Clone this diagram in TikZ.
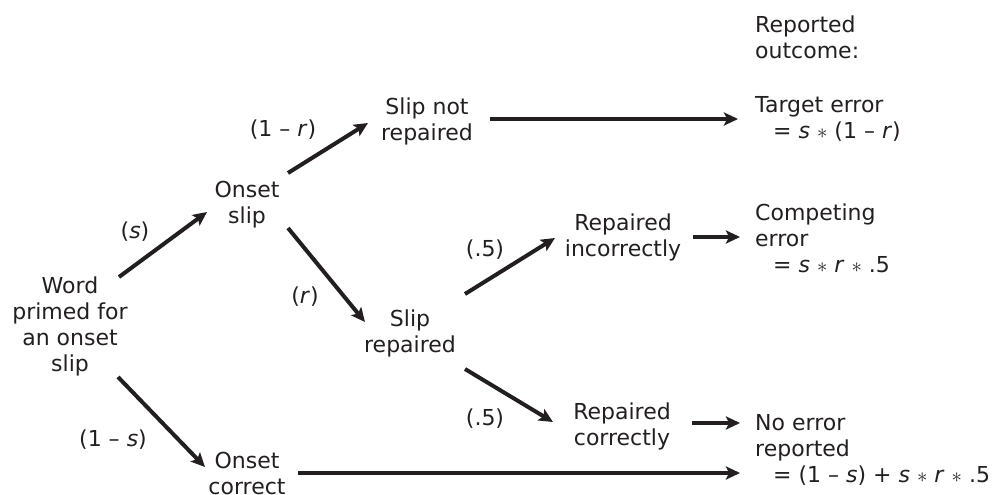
\documentclass[tikz,border=0pt]{standalone}
\usepackage{fontspec}
\setmainfont{DejaVu Sans}
\usetikzlibrary{arrows.meta,calc}
\definecolor{ink}{RGB}{35,31,32}
\newcommand{\tms}{$\ast$}
\begin{document}
\begin{tikzpicture}[x=1pt,y=-1pt,
  every node/.style={inner sep=0pt,text=ink,font=\fontsize{22}{26}\selectfont},
  state/.style={anchor=north,align=center},
  outcome/.style={anchor=north west,align=left},
  prob/.style={anchor=center},
  arr/.style={draw=ink,line width=4pt,-{Stealth[length=14pt,width=13pt,inset=3pt]}}]
\useasboundingbox (0,0) rectangle (1001,495);

% states of the tree
\node[state] (word)  at (70,276.5)  {Word\\primed for\\an onset\\slip};
\node[state] (oslip) at (247,180.5) {Onset\\slip};
\node[state] (ocor)  at (247,451.5) {Onset\\correct};
\node[state] (snr)   at (427,97.5)  {Slip not\\repaired};
\node[state] (srep)  at (410,309.5) {Slip\\repaired};
\node[state] (rinc)  at (623,213.5) {Repaired\\incorrectly};
\node[state] (rcor)  at (622,402.5) {Repaired\\correctly};

% reported outcomes
\node[outcome] (head)   at (755,15.5)  {Reported\\outcome:};
\node[outcome] (target) at (755,96.5)  {Target error\\\hspace*{18pt}= \textit{s} \tms{} (1 – \textit{r})};
\node[outcome] (comp)   at (755,203.5) {Competing\\error\\\hspace*{18pt}= \textit{s} \tms{} \textit{r} \tms{} .5};
\node[outcome] (noerr)  at (755,414.5) {No error\\reported\\\hspace*{18pt}= (1 – \textit{s}) + \textit{s} \tms{} \textit{r} \tms{} .5};

% branch probabilities
\node[prob] (ps)   at (135,232) {(\textit{s})};
\node[prob] (pns)  at (113,440) {(1 – \textit{s})};
\node[prob] (pnr)  at (283,130) {(1 – \textit{r})};
\node[prob] (pr)   at (305,297) {(\textit{r})};
\node[prob] (ph1)  at (485,250) {(.5)};
\node[prob] (ph2)  at (485,419) {(.5)};

% branches
\draw[arr] ($(word.north)+(49,0.5)$)    -- ($(oslip.north)+(-40,31.5)$);
\draw[arr] ($(word.north)+(48,100.5)$)  -- ($(ocor.north)+(-42,15.5)$);
\draw[arr] ($(oslip.north)+(41,-7.5)$)  -- ($(snr.north)+(-59,25.5)$);
\draw[arr] ($(oslip.north)+(41,47.5)$)  -- ($(srep.north)+(-45,12.5)$);
\draw[arr] ($(snr.north)+(63,21.5)$)    -- ($(target.north west)+(-17,22.5)$);
\draw[arr] ($(srep.north)+(55,-15.5)$)  -- ($(rinc.north)+(-68,24.5)$);
\draw[arr] ($(srep.north)+(55,59.5)$)   -- ($(rcor.north)+(-69,19.5)$);
\draw[arr] ($(rinc.north)+(70,23.5)$)   -- ($(comp.north west)+(-15,33.5)$);
\draw[arr] ($(rcor.north)+(70,20.5)$)   -- ($(noerr.north west)+(-15,8.5)$);
\draw[arr] ($(ocor.north)+(51,21.5)$)   -- ($(noerr.north west)+(-15,58.5)$);
\end{tikzpicture}
\end{document}
